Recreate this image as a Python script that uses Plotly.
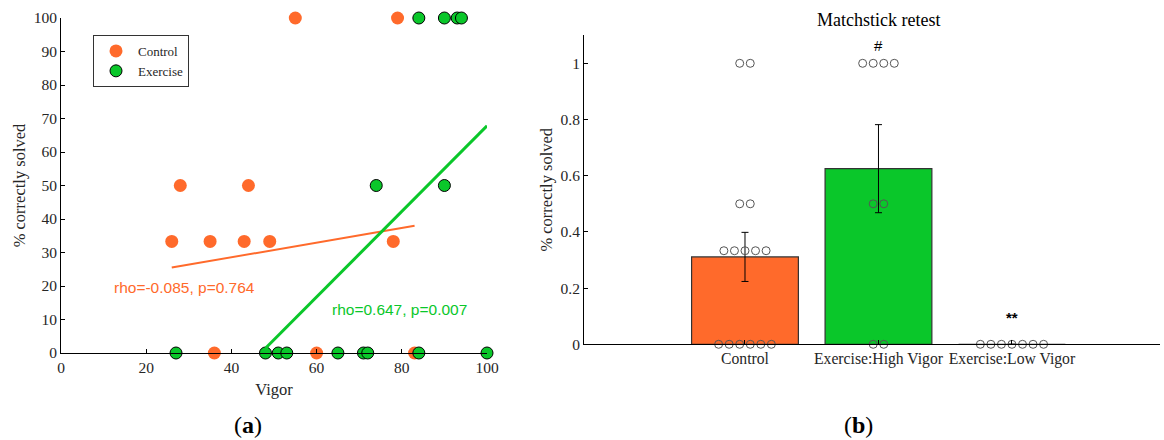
import numpy as np
import plotly.graph_objects as go

# ---------------- data: panel (a) ----------------
ctrl_vigor = [26, 28, 35, 36, 43, 44, 49, 55, 60, 78, 79, 83]
ctrl_score = [33.3, 50, 33.3, 0, 33.3, 50, 33.3, 100, 0, 33.3, 100, 0]
ex_vigor = [27, 48, 51, 53, 65, 71, 72, 84, 100, 74, 90, 84, 90, 93, 94]
ex_score = [0, 0, 0, 0, 0, 0, 0, 0, 0, 50, 50, 100, 100, 100, 100]
ctrl_fit_x = [26, 83]
ctrl_fit_y = [25.5, 38.0]
ex_fit_x = [48, 100]
ex_fit_y = [1.4, 67.8]
ctrl_label = "rho=-0.085, p=0.764"
ex_label = "rho=0.647, p=0.007"

# ---------------- data: panel (b) ----------------
groups = ["Control", "Exercise:High Vigor", "Exercise:Low Vigor"]
ctrl_items = [1, 1, 0.5, 0.5, 0.333, 0.333, 0.333, 0.333, 0.333, 0, 0, 0, 0, 0, 0]
high_items = [1, 1, 1, 1, 0.5, 0.5, 0, 0]
low_items = [0, 0, 0, 0, 0, 0, 0]
sig_marks = ["", "#", "**"]

ORANGE = "#FF6A2B"
GREEN = "#0AC72A"
SERIF = "'Liberation Serif', 'Times New Roman', serif"
SANS = "'Liberation Sans', Arial, sans-serif"
TXT = "#262626"

fig = go.Figure()

# panel (a)
fig.add_trace(go.Scatter(x=ctrl_vigor, y=ctrl_score, mode="markers", name="Control",
                         marker=dict(color=ORANGE, size=13, line=dict(width=0)),
                         cliponaxis=False, xaxis="x", yaxis="y"))
fig.add_trace(go.Scatter(x=ctrl_fit_x, y=ctrl_fit_y, mode="lines", showlegend=False,
                         line=dict(color=ORANGE, width=2), xaxis="x", yaxis="y"))
fig.add_trace(go.Scatter(x=ex_vigor, y=ex_score, mode="markers", name="Exercise",
                         marker=dict(color=GREEN, size=12, line=dict(width=1, color="black")),
                         cliponaxis=False, xaxis="x", yaxis="y"))
fig.add_trace(go.Scatter(x=ex_fit_x, y=ex_fit_y, mode="lines", showlegend=False,
                         line=dict(color=GREEN, width=3), xaxis="x", yaxis="y"))

# panel (b)
all_items = [ctrl_items, high_items, low_items]
pos = [1, 2, 3]
means = [float(np.mean(v)) for v in all_items]
sems = [float(np.std(v, ddof=1) / np.sqrt(len(v))) if np.std(v) > 0 else 0.0 for v in all_items]
fig.add_trace(go.Bar(x=pos, y=means, width=0.8, showlegend=False,
                     marker=dict(color=[ORANGE, GREEN, "white"], line=dict(color="#333", width=1.2)),
                     error_y=dict(type="data", array=sems, color="black", thickness=1, width=3.5,
                                  visible=True),
                     xaxis="x2", yaxis="y2"))

# individual points, spread horizontally per value
px, py = [], []
for p, items in zip(pos, all_items):
    vals = sorted(set(items), reverse=True)
    for v in vals:
        n = items.count(v)
        for i in range(n):
            px.append(p + (i - (n - 1) / 2) * 0.079)
            py.append(v)
fig.add_trace(go.Scatter(x=px, y=py, mode="markers", showlegend=False,
                         marker=dict(symbol="circle-open", size=8, color="#555",
                                     line=dict(width=1, color="#555")),
                         cliponaxis=False, xaxis="x2", yaxis="y2"))

ann = [
    dict(x=29, y=19.7, xref="x", yref="y", text=ctrl_label, showarrow=False, xanchor="center",
         font=dict(family=SANS, size=15.5, color=ORANGE)),
    dict(x=79.5, y=13.1, xref="x", yref="y", text=ex_label, showarrow=False, xanchor="center",
         font=dict(family=SANS, size=15.5, color=GREEN)),
    dict(x=2, y=1.065, xref="x2", yref="y2", text=sig_marks[1], showarrow=False, xanchor="center",
         font=dict(family=SANS, size=15, color="black")),
    dict(x=3, y=0.095, xref="x2", yref="y2", text="<b>" + sig_marks[2] + "</b>", showarrow=False,
         xanchor="center", font=dict(family=SANS, size=15, color="black")),
    dict(x=878 / 1164, y=1 - 20 / 440, xref="paper", yref="paper", text="Matchstick retest",
         showarrow=False, xanchor="center", yanchor="middle",
         font=dict(family=SERIF, size=18, color="black")),
    dict(x=248 / 1164, y=1 - 425 / 440, xref="paper", yref="paper", text="(<b>a</b>)",
         showarrow=False, xanchor="center", yanchor="middle",
         font=dict(family=SERIF, size=24, color="black")),
    dict(x=858 / 1164, y=1 - 425 / 440, xref="paper", yref="paper", text="(<b>b</b>)",
         showarrow=False, xanchor="center", yanchor="middle",
         font=dict(family=SERIF, size=24, color="black")),
]

axis_common = dict(showline=True, linecolor="black", linewidth=1, ticks="inside", ticklen=4,
                   tickcolor="black", showgrid=False, zeroline=False, automargin=False)
num_font = dict(family=SERIF, size=15.5, color=TXT)
title_font = dict(family=SERIF, size=16.5, color=TXT)

fig.update_layout(
    width=1164, height=440, margin=dict(l=0, r=0, t=0, b=0, autoexpand=False),
    font=dict(family=SERIF, size=15, color=TXT),
    plot_bgcolor="white", paper_bgcolor="white",
    xaxis=dict(domain=[61 / 1164, 487 / 1164], range=[0, 100], tickvals=[0, 20, 40, 60, 80, 100],
               tickfont=num_font,
               title=dict(text="Vigor", font=title_font, standoff=8),
               anchor="y", **axis_common),
    yaxis=dict(domain=[1 - 353 / 440, 1 - 18 / 440], range=[0, 100], tickvals=list(range(0, 101, 10)),
               tickfont=num_font,
               title=dict(text="% correctly solved", font=title_font, standoff=3),
               anchor="x", **axis_common),
    xaxis2=dict(domain=[584 / 1164, 1160 / 1164], range=[-0.206, 4.109], tickvals=pos, ticktext=groups,
                tickfont=dict(family=SERIF, size=15.7, color=TXT),
                anchor="y2", **axis_common),
    yaxis2=dict(domain=[1 - 344.3 / 440, 1 - 35.2 / 440], range=[0, 1.1],
                tickvals=[0, 0.2, 0.4, 0.6, 0.8, 1], ticktext=["0", "0.2", "0.4", "0.6", "0.8", "1"],
                tickfont=num_font,
                title=dict(text="% correctly solved", font=title_font, standoff=3),
                anchor="x2", **axis_common),
    legend=dict(x=93 / 1164, y=1 - 35 / 440, xanchor="left", yanchor="top",
                bordercolor="#333", borderwidth=1, bgcolor="white",
                font=dict(family=SERIF, size=13, color=TXT), tracegroupgap=0,
                itemwidth=34),
    annotations=ann,
    showlegend=True,
)

fig.write_html("out.html", post_script="document.body.style.margin='0';document.body.style.overflow='hidden';")
